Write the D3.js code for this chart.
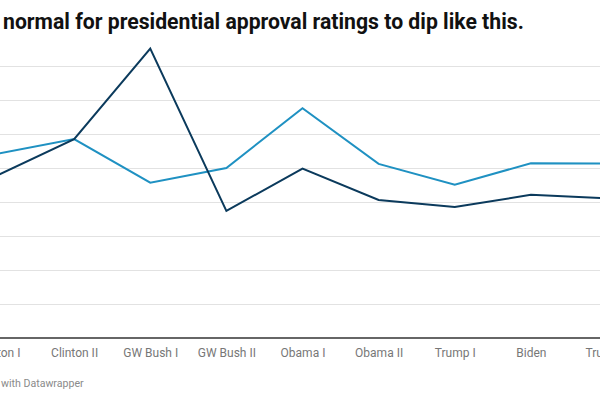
<!DOCTYPE html>
<html>
<head>
<meta charset="utf-8">
<script src="https://cdn.jsdelivr.net/npm/d3@7"></script>
<style>
  body { margin: 0; background: #fff; }
  svg { display: block; font-family: Roboto, "Noto Sans", sans-serif; }
</style>
</head>
<body>
<div id="chart"></div>
<script>
var svgWidth = 600
var svgHeight = 400

// data
var terms = ["Clinton I", "Clinton II", "GW Bush I", "GW Bush II", "Obama I", "Obama II", "Trump I", "Biden", "Trump II"]
var darkSeries = [47.9, 58.5, 85.1, 37.4, 49.8, 40.6, 38.5, 42.1, 41.1]
var lightSeries = [54.2, 58.5, 45.7, 50.0, 67.6, 51.2, 45.1, 51.4, 51.3]
var yTicks = [10, 20, 30, 40, 50, 60, 70, 80]

var svg = d3.select("#chart").append("svg").attr("width", svgWidth).attr("height", svgHeight)

var xScale = d3.scalePoint().domain(terms).range([-2, 607])
var yScale = d3.scaleLinear().domain([0, 80]).range([338, 66])

// gridlines
svg.append("g").selectAll("line")
    .data(yTicks)
    .enter()
    .append("line")
    .attr("x1", 0)
    .attr("x2", svgWidth)
    .attr("y1", d => Math.round(yScale(d)) + 0.5)
    .attr("y2", d => Math.round(yScale(d)) + 0.5)
    .attr("stroke", "#e2e2e2")
    .attr("stroke-width", 1)

// x axis
var bottomAxis = d3.axisBottom(xScale).tickSize(0).tickPadding(10)
var xAxis = svg.append("g").attr("transform", `translate(0, ${yScale(0)})`).call(bottomAxis)
xAxis.select(".domain").attr("d", `M0,0H${svgWidth}`).attr("stroke", "#333").attr("stroke-width", 1.5)
xAxis.selectAll("text").attr("font-size", "12px").attr("fill", "#777").attr("font-family", "Roboto")

var line = d3.line()
    .x((d, i) => xScale(terms[i]))
    .y(d => yScale(d))

svg.append("path")
    .datum(lightSeries)
    .attr("d", line)
    .attr("fill", "none")
    .attr("stroke", "#1f91c2")
    .attr("stroke-width", 2)
    .attr("stroke-linejoin", "miter")

svg.append("path")
    .datum(darkSeries)
    .attr("d", line)
    .attr("fill", "none")
    .attr("stroke", "#0b3a5c")
    .attr("stroke-width", 2)
    .attr("stroke-linejoin", "miter")

// title
svg.append("text")
    .attr("x", 3)
    .attr("y", 29)
    .attr("font-size", "21.2px")
    .attr("font-weight", "bold")
    .attr("fill", "#111")
    .text("normal for presidential approval ratings to dip like this.")

// footer
svg.append("text")
    .attr("x", 1)
    .attr("y", 387)
    .attr("font-size", "10.6px")
    .attr("fill", "#8a8a8a")
    .text("with Datawrapper")
</script>
</body>
</html>
